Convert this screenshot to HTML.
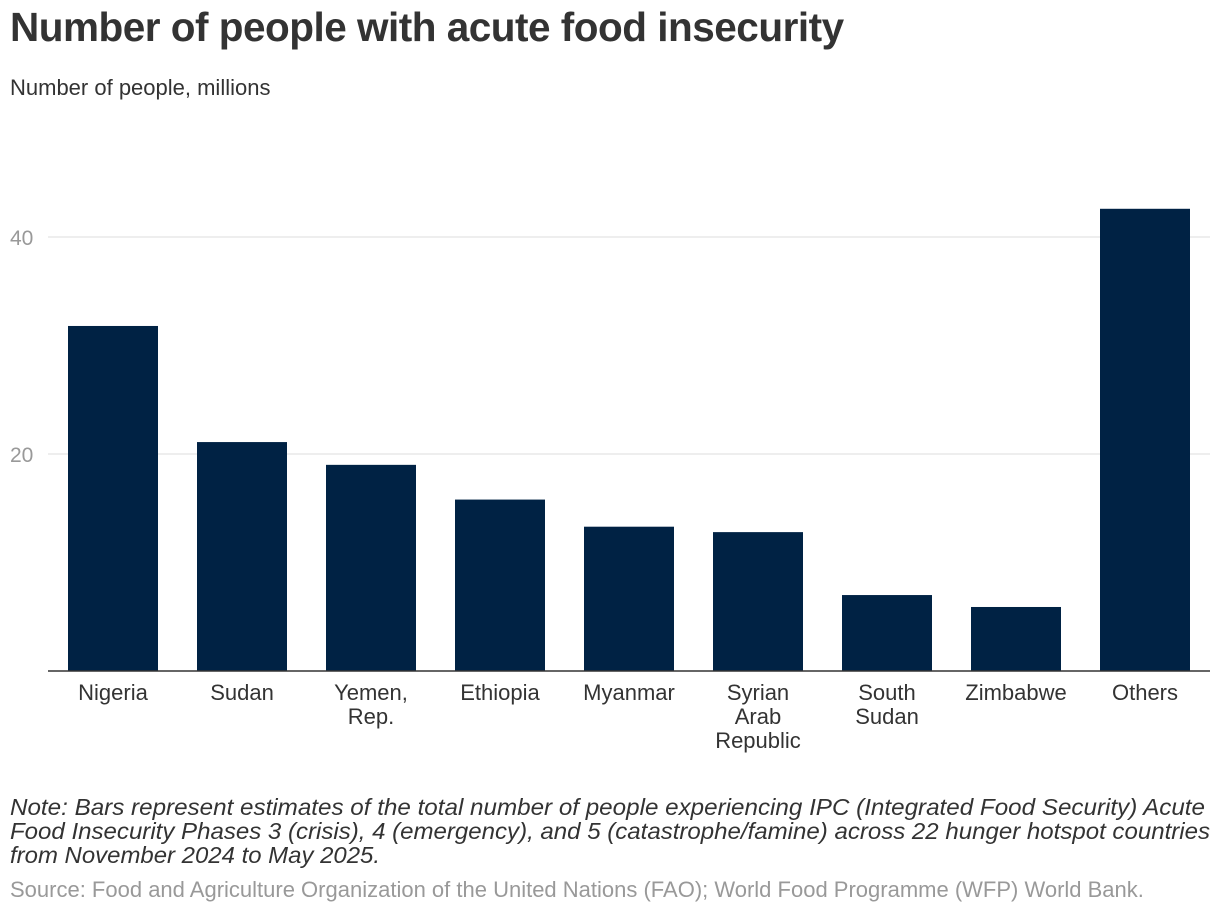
<!DOCTYPE html>
<html><head><meta charset="utf-8">
<style>
body{margin:0;background:#fff;font-family:"Liberation Sans",Arial,sans-serif;}
#wrap{position:relative;width:1220px;height:914px;overflow:hidden;}
.t{position:absolute;white-space:nowrap;}
</style></head><body>
<div id="wrap">
<div class="t" style="left:10px;top:4px;font-size:40.5px;font-weight:bold;color:#333;letter-spacing:-0.5px;">Number of people with acute food insecurity</div>
<div class="t" style="left:10px;top:75px;font-size:22px;color:#333;">Number of people, millions</div>
<svg id="chart" width="1220" height="780" style="position:absolute;left:0;top:0"></svg>
<svg width="1220" height="80" style="position:absolute;left:0;top:790px">
<g font-family="Liberation Sans, sans-serif" font-style="italic" font-size="23" fill="#333">
<text x="10" y="25" textLength="1195" lengthAdjust="spacingAndGlyphs">Note: Bars represent estimates of the total number of people experiencing IPC (Integrated Food Security) Acute</text>
<text x="10" y="49" textLength="1200" lengthAdjust="spacingAndGlyphs">Food Insecurity Phases 3 (crisis), 4 (emergency), and 5 (catastrophe/famine) across 22 hunger hotspot countries</text>
<text x="10" y="73" textLength="370" lengthAdjust="spacingAndGlyphs">from November 2024 to May 2025.</text>
</g></svg>
<div class="t" style="left:10px;top:877px;font-size:22px;color:#999;">Source: Food and Agriculture Organization of the United Nations (FAO); World Food Programme (WFP) World Bank.</div>
</div>
<script>
const categories=[["Nigeria"],["Sudan"],["Yemen,","Rep."],["Ethiopia"],["Myanmar"],["Syrian","Arab","Republic"],["South","Sudan"],["Zimbabwe"],["Others"]];
const values=[31.8,21.1,19.0,15.8,13.3,12.8,7.0,5.9,42.6];
const ticks=[20,40];
const ns="http://www.w3.org/2000/svg";
const svg=document.getElementById('chart');
const x0=48.5,x1=1209.5,y0=671,pxPer=(671-237)/40;
const step=(x1-x0)/categories.length,bw=90;
function y(v){return y0-v*pxPer;}
function xc(i){return x0+step*(i+0.5);}
function mk(tag,attrs){const e=document.createElementNS(ns,tag);for(const k in attrs)e.setAttribute(k,attrs[k]);svg.appendChild(e);return e;}
ticks.forEach(t=>{
 const l=mk('line',{x1:48,x2:1210,y1:y(t),y2:y(t),stroke:'#ddd','stroke-width':1});
 
 
 const tx=mk('text',{x:10,y:y(t)+8,'font-size':21,fill:'#999','font-family':'Liberation Sans, sans-serif'});
 tx.textContent=t;
 
 
});
values.forEach((v,i)=>{
 const r=mk('rect',{x:xc(i)-bw/2,y:y(v),width:bw,height:y0-y(v),fill:'#002244'});
 
 
 categories[i].forEach((s,j)=>{
  const tx=mk('text',{x:xc(i),y:700+j*24,'font-size':22,fill:'#333','text-anchor':'middle','font-family':'Liberation Sans, sans-serif'});
  tx.textContent=s;
  
  
 });
});
const ax=mk('line',{x1:48,x2:1210,y1:y0,y2:y0,stroke:'#333','stroke-width':1.5});


</script>
</body></html>
